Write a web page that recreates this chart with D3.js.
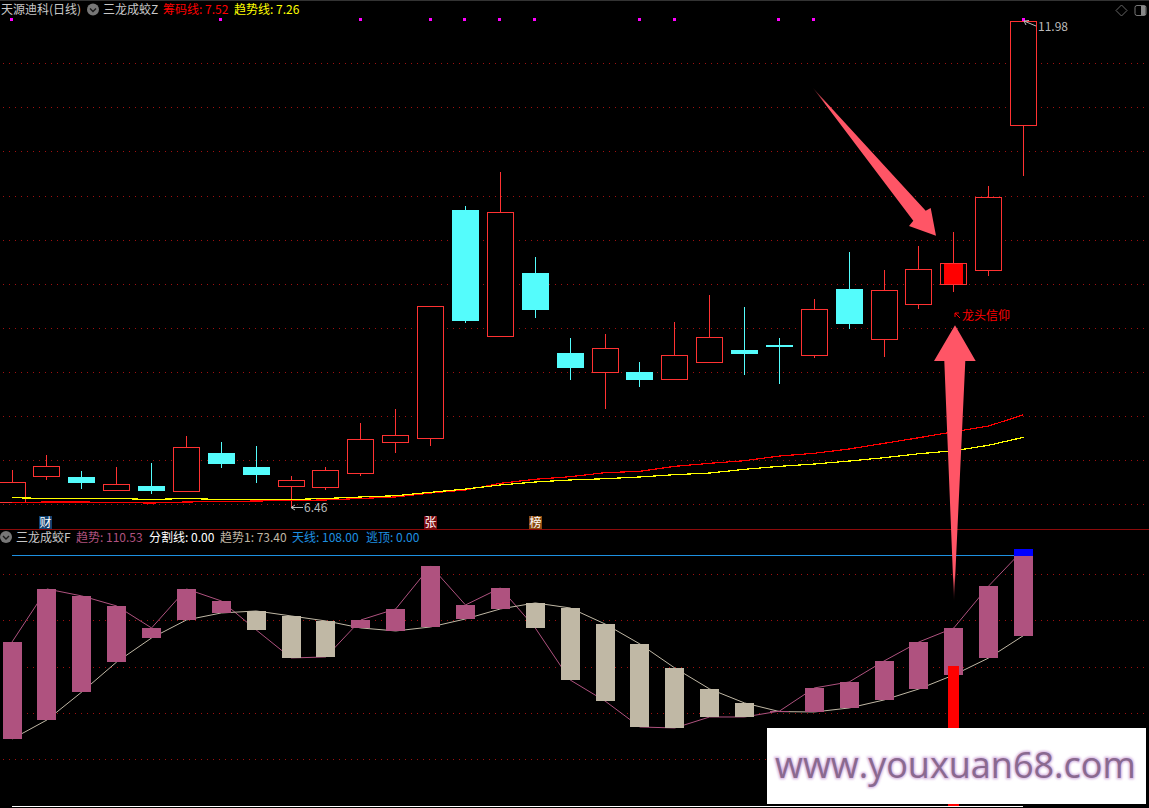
<!DOCTYPE html>
<html><head><meta charset="utf-8">
<script src="https://cdn.jsdelivr.net/npm/d3@7"></script>
<style>html,body{margin:0;padding:0;background:#000;overflow:hidden}svg{display:block}
text{font-family:"Noto Sans CJK SC","Noto Sans",sans-serif;font-size:12px}</style></head><body>
<svg id="c" width="1149" height="808"></svg>
<script>
// price panel data
const opens  = [6.502,6.804,6.801,6.645,6.699,6.634,7.073,6.914,6.691,6.679,6.838,7.190,7.236,9.833,8.394,9.118,8.209,7.985,7.993,7.906,8.099,8.243,8.300,8.178,8.936,8.360,8.758,8.985,9.144,10.791];
const closes = [6.741,6.922,6.733,6.718,6.642,7.138,6.948,6.823,6.763,6.877,7.229,7.274,8.740,8.573,9.807,8.698,8.039,8.262,7.902,8.183,8.387,8.198,8.277,8.705,8.539,8.921,9.160,9.228,9.978,11.977];
const highs  = [6.880,7.051,6.869,6.914,6.960,7.266,7.198,7.153,6.812,6.914,7.414,7.573,8.740,9.879,10.265,9.300,8.380,8.425,8.107,8.561,8.868,8.732,8.380,8.822,9.356,9.152,9.424,9.583,10.106,11.98];
const lows   = [6.502,6.767,6.664,6.645,6.608,6.634,6.903,6.733,6.46,6.653,6.812,7.073,7.153,8.550,8.394,8.607,7.902,7.573,7.823,7.906,8.099,7.959,7.857,8.152,8.482,8.167,8.712,8.902,9.084,10.223];
const chipLine  = [6.509,6.517,6.517,6.511,6.505,6.517,6.522,6.528,6.534,6.540,6.557,6.574,6.619,6.653,6.729,6.775,6.804,6.850,6.865,6.922,6.956,6.986,7.039,7.070,7.119,7.183,7.247,7.315,7.380,7.508];
const trendLine = [6.566,6.557,6.557,6.557,6.545,6.557,6.545,6.545,6.545,6.557,6.574,6.588,6.627,6.664,6.710,6.744,6.767,6.781,6.801,6.827,6.846,6.888,6.922,6.948,6.982,7.020,7.065,7.099,7.161,7.252];
const priceGrid = [6.491,6.992,7.493,7.994,8.495,8.996,9.497,9.998,10.499,11.0,11.501];
const markerIdx = [0,6,10,12,13,14,15,18,19,22,23,29];
const filledIdx = [27];
// indicator panel data
const trend  = [70.62,93.49,90.47,86.15,76.66,93.49,88.31,75.80,63.72,64.15,80.11,84.86,103.41,86.58,93.92,76.66,54.23,45.17,33.95,33.52,38.27,38.27,40.8,50.78,53.37,62.42,70.62,76.66,94.78,110.53];
const trend1 = [28.77,36.97,49.05,61.99,72.35,80.11,83.13,83.99,81.84,79.68,76.66,75.37,77.09,80.54,84.86,87.45,85.29,78.39,69.76,59.40,50.35,44.31,40.6,40.42,42.15,45.60,50.35,56.38,63.72,73.40];
const skyLine = 108, splitLine = 0;
const redStick = {i:27, v:60.3};
const indGrid = [20,40,60,80,100];
const tags = [{t:"财",i:0.95,bg:"#10406e"},{t:"张",i:12,bg:"#7a0b10"},{t:"榜",i:15,bg:"#8a4a10"}];

const RED="#ff3232",CYAN="#54fcfc",PUR="#af527f",BEI="#c0b8a5",BLU="#1e90e0",ARW="#ff5566",GRID="#a01010";
const svg=d3.select("#c");
const x=d3.scaleLinear().domain([0,29]).range([12.05,1023.57]);
const y=d3.scaleLinear().domain([6.46,11.98]).range([507,21]);
const yi=d3.scaleLinear().domain([0,108]).range([805.7,555.3]);
const R=Math.round;
const idx=d3.range(30);

svg.append("rect").attr("width",1149).attr("height",808).attr("fill","#000");
svg.append("rect").attr("width",1149).attr("height",1).attr("fill","#333");

const defs=svg.append("defs");
const g1=defs.append("linearGradient").attr("id","fadeV").attr("gradientUnits","userSpaceOnUse")
  .attr("x1",0).attr("y1",602).attr("x2",0).attr("y2",575);
g1.append("stop").attr("offset",0).attr("stop-color",ARW).attr("stop-opacity",0);
g1.append("stop").attr("offset",1).attr("stop-color",ARW);
const g2=defs.append("linearGradient").attr("id","fadeD").attr("gradientUnits","userSpaceOnUse")
  .attr("x1",812).attr("y1",87).attr("x2",826).attr("y2",103);
g2.append("stop").attr("offset",0).attr("stop-color",ARW).attr("stop-opacity",0.15);
g2.append("stop").attr("offset",1).attr("stop-color",ARW);
const glow=defs.append("filter").attr("id","glow").attr("x","-5%").attr("y","-20%").attr("width","110%").attr("height","140%");
glow.append("feGaussianBlur").attr("stdDeviation",1.1);

// grids
const grid=svg.append("g").attr("shape-rendering","crispEdges").attr("stroke",GRID).attr("stroke-dasharray","1,5");
grid.selectAll(".p").data(priceGrid).join("line").attr("x1",3).attr("x2",1149).attr("y1",d=>R(y(d))+.5).attr("y2",d=>R(y(d))+.5);
grid.selectAll(".i").data(indGrid).join("line").attr("x1",3).attr("x2",1149).attr("y1",d=>R(yi(d))+.5).attr("y2",d=>R(yi(d))+.5);

svg.append("rect").attr("x",0).attr("y",529).attr("width",1149).attr("height",1).attr("fill","#8c0a0a");

// markers
svg.append("g").selectAll("rect").data(markerIdx).join("rect")
 .attr("x",d=>R(x(d))-2).attr("y",18).attr("width",3).attr("height",3).attr("fill","#ff00ff");

// candles
const cg=svg.append("g").attr("shape-rendering","crispEdges");
idx.forEach(i=>{
  const up=closes[i]>=opens[i], col=up?RED:CYAN, cx=Math.floor(x(i))+.5;
  cg.append("line").attr("x1",cx).attr("x2",cx).attr("y1",R(y(highs[i]))).attr("y2",R(y(lows[i]))).attr("stroke",col);
  const top=R(y(Math.max(opens[i],closes[i]))), bot=R(y(Math.min(opens[i],closes[i])));
  if(up){
    cg.append("rect").attr("x",cx-13).attr("y",top+.5).attr("width",26).attr("height",bot-top-1).attr("fill","#000").attr("stroke",col);
    if(filledIdx.includes(i)) cg.append("rect").attr("x",cx-9.5).attr("y",top+1).attr("width",19).attr("height",bot-top-2).attr("fill","#ff0000");
  } else {
    cg.append("rect").attr("x",cx-13.5).attr("y",top).attr("width",27).attr("height",Math.max(bot-top,1)).attr("fill",col);
  }
});

// moving lines
const ln=(sc,a)=>d3.line().x((d,i)=>x(i)).y(d=>sc(d))(a);
svg.append("path").attr("d",ln(y,chipLine)).attr("fill","none").attr("stroke","#ff0000").attr("stroke-width",1.2).attr("shape-rendering","crispEdges");
svg.append("path").attr("d",ln(y,trendLine)).attr("fill","none").attr("stroke","#ffff00").attr("stroke-width",1.2).attr("shape-rendering","crispEdges");

// tags
tags.forEach(d=>{
  const cx=Math.floor(x(d.i));
  svg.append("rect").attr("x",cx-6).attr("y",516).attr("width",13).attr("height",13).attr("fill",d.bg);
  svg.append("text").attr("x",cx+.5).attr("y",527).attr("text-anchor","middle").attr("fill","#fff").text(d.t);
});

// indicator panel
svg.append("line").attr("x1",12).attr("x2",1023).attr("y1",R(yi(skyLine))+.5).attr("y2",R(yi(skyLine))+.5).attr("stroke",BLU).attr("shape-rendering","crispEdges");
svg.append("line").attr("x1",12).attr("x2",1023).attr("y1",R(yi(splitLine))+.5).attr("y2",R(yi(splitLine))+.5).attr("stroke","#fff").attr("shape-rendering","crispEdges");
svg.append("path").attr("d",ln(yi,trend)).attr("fill","none").attr("stroke",PUR).attr("stroke-width",1);
svg.append("path").attr("d",ln(yi,trend1)).attr("fill","none").attr("stroke",BEI).attr("stroke-width",1);
const bg=svg.append("g").attr("shape-rendering","crispEdges");
idx.forEach(i=>{
  const a=trend[i],b=trend1[i],top=R(yi(Math.max(a,b))),bot=R(yi(Math.min(a,b)));
  if(bot-top<1) return;
  bg.append("rect").attr("x",Math.floor(x(i))-9).attr("y",top).attr("width",19).attr("height",bot-top).attr("fill",a>=b?PUR:BEI);
  if(a>skyLine) bg.append("rect").attr("x",Math.floor(x(i))-9).attr("y",top).attr("width",19).attr("height",R(yi(skyLine))-top+1).attr("fill","#0000ff");
});
bg.append("rect").attr("x",Math.floor(x(redStick.i))-5).attr("y",R(yi(redStick.v))).attr("width",11).attr("height",R(yi(0))-R(yi(redStick.v))).attr("fill","#ff0000");

// big arrows
svg.append("path").attr("d","M955 325.3L975.7 361H965.3L954 602L944.3 361H934Z").attr("fill","url(#fadeV)");
svg.append("path").attr("d","M813 88L925.7 210.7L930.7 208L936 235.7L909 226L913.3 220.7Z").attr("fill","url(#fadeD)");

// annotations
const T=(xx,yy,t,c,a)=>svg.append("text").attr("x",xx).attr("y",yy).attr("fill",c).attr("text-anchor",a||"start").text(t);
const arrowStroke=(d,c)=>svg.append("path").attr("d",d).attr("fill","none").attr("stroke",c).attr("stroke-width",1);
arrowStroke("M291 507.5H303M291 507.5L295 505M291 507.5L295 510","#bbb");
T(304,512,"6.46","#bbb");
arrowStroke("M1024 21L1036 26M1024 21L1029 20.5M1024 21L1026 25","#bbb");
T(1038,31,"11.98","#bbb");
arrowStroke("M960 318L955 313M955 313V317M955 313H959","#ff0000");
T(962,320,"龙头信仰","#ff0000");

// headers
const icon=(cx,cy)=>{svg.append("circle").attr("cx",cx).attr("cy",cy).attr("r",6).attr("fill","#777");
  svg.append("path").attr("d",`M${cx-3} ${cy-1}L${cx} ${cy+2}L${cx+3} ${cy-1}`).attr("fill","none").attr("stroke","#1a1a1a").attr("stroke-width",1.4);};
T(1,14,"天源迪科(日线)","#c8c8c8");
icon(93,9.5);
T(103,14,"三龙成蛟Z","#c8c8c8");
T(163,14,"筹码线: 7.52","#ff0000");
T(234,14,"趋势线: 7.26","#ffff00");
icon(6,537);
T(16,542,"三龙成蛟F","#c8c8c8");
T(76,542,"趋势: 110.53",PUR);
T(149,542,"分割线: 0.00","#ffffff");
T(220,542,"趋势1: 73.40",BEI);
T(292,542,"天线: 108.00",BLU);
T(366,542,"逃顶: 0.00",BLU);

// top-right buttons
svg.append("path").attr("d","M1121.5 5L1127 10.5L1121.5 16L1116 10.5Z").attr("fill","none").attr("stroke","#666");
svg.append("rect").attr("x",1135).attr("y",5.5).attr("width",11).attr("height",10).attr("rx",2).attr("fill","none").attr("stroke","#777");
svg.append("rect").attr("x",1141).attr("y",6).attr("width",4.5).attr("height",9).attr("fill","#888");

// watermark
svg.append("rect").attr("x",767).attr("y",728).attr("width",379).attr("height",76).attr("fill","#fff");
const wm=()=>svg.append("text").attr("x",775).attr("y",778)
  .style("font-family","'Open Sans',sans-serif").style("font-size","36px").text("www.youxuan68.com");
wm().attr("fill","#d6b4e0").attr("stroke","#d6b4e0").attr("stroke-width",2.5).attr("filter","url(#glow)");
wm().attr("fill","#8a6a90");
</script></body></html>
